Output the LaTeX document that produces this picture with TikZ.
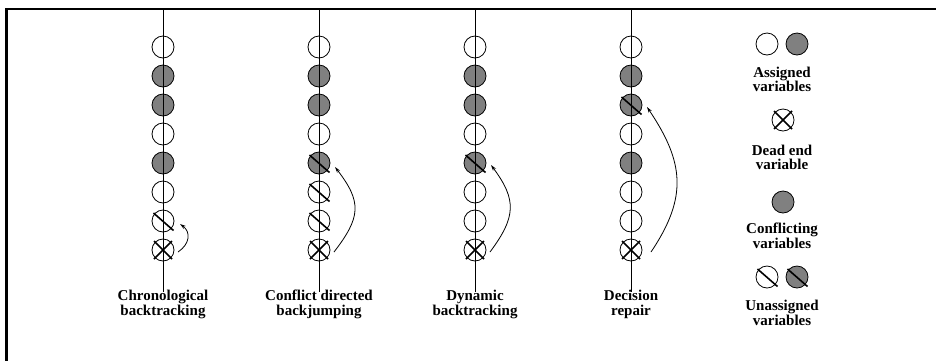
\documentclass[tikz,border=0pt]{standalone}
\usepackage{fontspec}
\setmainfont{Liberation Serif}
\usetikzlibrary{arrows.meta,calc}
\tikzset{
  var/.style={circle,draw,line width=0.8pt,minimum size=22pt,inner sep=0pt,outer sep=0pt},
  tw/.style={var,fill=white},
  tg/.style={var,fill=black!50},
  tws/.style={tw},
  tgs/.style={tg},
  tx/.style={tw},
  slashln/.style={line width=1.6pt},
  spine/.style={line width=0.8pt},
  framel/.style={line width=2.2pt},
  arr/.style={line width=0.8pt,-{Stealth[length=6pt,width=3.6pt]}},
  lab/.style={font=\bfseries\fontsize{15}{14.5}\selectfont,align=center,inner sep=0pt}
}
\newcommand\slashit[1]{\draw[slashln] ($(#1)+(-9.5,8)$) -- ($(#1)+(10.5,-9.5)$);}
\newcommand\crossit[1]{%
  \draw[slashln] ($(#1)+(-9,9)$) -- ($(#1)+(9,-9)$);
  \draw[slashln] ($(#1)+(-9,-9)$) -- ($(#1)+(9,9)$);}
\begin{document}
\begin{tikzpicture}[x=1pt,y=1pt]
\useasboundingbox (0,0) rectangle (936,-360);
% frame
\coordinate (fbl) at (6.5,-362);
\coordinate (ftl) at (6.5,-9);
\coordinate (ftr) at (938,-9);
\draw[framel] (fbl) -- (ftl) -- (ftr);
% columns
\foreach \c/\xx/\types in {1/163/{tw,tg,tg,tw,tg,tw,tws,tx},
                           2/319/{tw,tg,tg,tw,tgs,tws,tws,tx},
                           3/475/{tw,tg,tg,tw,tgs,tw,tw,tx},
                           4/631/{tw,tg,tgs,tw,tg,tw,tw,tx}}{
  \foreach \t [count=\i from 0] in \types {
    \node[\t] (n\c\i) at (\xx,{-47-29*\i}) {};
  }
  \coordinate (top\c) at (\xx,-9);
  \coordinate (bot\c) at (\xx,-292);
  \draw[spine] (top\c) -- (bot\c);
}
\foreach \n in {n16,n24,n25,n26,n34,n42} {\slashit{\n}}
\foreach \n in {n17,n27,n37,n47} {\crossit{\n}}
% labels
\node[lab] (l1) at (163,-304.5) {Chronological\\backtracking};
\node[lab] (l2) at (319,-304.5) {Conflict directed\\backjumping};
\node[lab] (l3) at (475,-304.5) {Dynamic\\backtracking};
\node[lab] (l4) at (631,-304.5) {Decision\\repair};
% arrows
\coordinate (s1) at (178,-252); \coordinate (e1) at (180,-224);
\coordinate (s2) at (334,-252); \coordinate (e2) at (335,-167);
\coordinate (s3) at (490,-252); \coordinate (e3) at (491,-165);
\coordinate (s4) at (651,-252); \coordinate (e4) at (647,-107);
\draw[arr] (s1) .. controls +(12,8) and +(11,-8) .. (e1);
\draw[arr] (s2) .. controls +(27,35) and +(27,-35) .. (e2);
\draw[arr] (s3) .. controls +(26,35) and +(26,-35) .. (e3);
\draw[arr] (s4) .. controls +(37,55) and +(37,-55) .. (e4);
% legend
\node[tw] (la) at (767,-44) {};
\node[tg] (lb) at (797,-44) {};
\node[lab] (lt1) at (782,-79.5) {Assigned\\variables};
\node[tx] (lc) at (783,-120) {};
\crossit{lc}
\node[lab] (lt2) at (782,-157.5) {Dead end\\variable};
\node[tg] (ld) at (783,-202) {};
\node[lab] (lt3) at (782,-236) {Conflicting\\variables};
\node[tws] (le) at (767,-277) {};
\node[tgs] (lf) at (797,-277) {};
\slashit{le}
\slashit{lf}
\node[lab] (lt4) at (782,-313) {Unassigned\\variables};
\end{tikzpicture}
\end{document}
